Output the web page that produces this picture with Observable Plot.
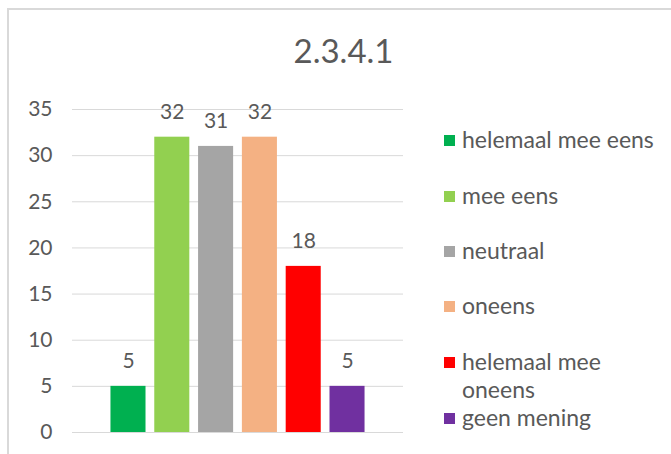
<!DOCTYPE html>
<html>
<head>
<meta charset="utf-8">
<script src="https://cdn.jsdelivr.net/npm/d3@7"></script>
<script src="https://cdn.jsdelivr.net/npm/@observablehq/plot@0.6"></script>
<style>
  html, body { margin: 0; padding: 0; background: #fff; overflow: hidden; }
  body { width: 671px; height: 454px; position: relative; font-family: Lato, "Open Sans", sans-serif; color: #595959; }
  #frame { position: absolute; left: 7px; top: 8px; width: 720px; height: 520px; border-left: 2px solid #d9d9d9; border-top: 2px solid #d9d9d9; box-sizing: border-box; }
  #title { position: absolute; left: 0; width: 687px; top: 30px; text-align: center; font-size: 33px; line-height: 40px; color: #595959; }
  #chart { position: absolute; left: 0; top: 0; }
  #legend { position: absolute; left: 444px; top: 0; }
  .item { position: absolute; left: 0; white-space: nowrap; font-size: 23px; line-height: 28px; color: #595959; }
  .sw { position: absolute; left: 0; width: 11px; height: 11px; }
  .lbl { position: absolute; left: 18px; }
</style>
</head>
<body>
<div id="frame"></div>
<div id="title">2.3.4.1</div>
<div id="chart"></div>
<div id="legend"></div>
<script>
const categories = ["helemaal mee eens", "mee eens", "neutraal", "oneens", "helemaal mee oneens", "geen mening"];
const values = [5, 32, 31, 32, 18, 5];
const colors = ["#00b050", "#92d050", "#a5a5a5", "#f4b183", "#ff0000", "#7030a0"];
const legendLines = [["helemaal mee eens"], ["mee eens"], ["neutraal"], ["oneens"], ["helemaal mee", "oneens"], ["geen mening"]];
const yTicks = [0, 5, 10, 15, 20, 25, 30, 35];

const data = categories.map((c, i) => ({category: c, value: values[i]}));

const chart = Plot.plot({
  width: 420,
  height: 454,
  marginLeft: 72,
  marginRight: 17,
  marginTop: 109,
  marginBottom: 22,
  style: {fontFamily: "Lato, 'Open Sans', sans-serif", fontSize: "21px", color: "#595959", background: "transparent", overflow: "visible"},
  x: {domain: categories, paddingInner: 0.2, paddingOuter: 0.878, round: false, axis: null},
  y: {domain: [0, 35], ticks: yTicks},
  color: {domain: categories, range: colors},
  marks: [
    Plot.gridY(yTicks, {stroke: "#d9d9d9", strokeOpacity: 1, strokeWidth: 1}),
    Plot.axisY(yTicks, {tickSize: 0, tickPadding: 20, fill: "#595959", fontSize: 21, label: null}),
    Plot.barY(data, {x: "category", y: "value", fill: "category"}),
    Plot.text(data, {x: "category", y: "value", text: d => String(d.value), dy: -25, fill: "#595959", fontSize: 21})
  ]
});
document.getElementById("chart").appendChild(chart);

const legend = document.getElementById("legend");
const baselines = [147, 203, 258, 313, 369, 425];
legendLines.forEach((lines, i) => {
  const item = document.createElement("div");
  item.className = "item";
  item.style.top = (baselines[i] - 22) + "px";
  const sw = document.createElement("div");
  sw.className = "sw";
  sw.style.background = colors[i];
  sw.style.top = "10px";
  item.appendChild(sw);
  const lbl = document.createElement("div");
  lbl.className = "lbl";
  lbl.innerHTML = lines.join("<br>");
  item.appendChild(lbl);
  legend.appendChild(item);
});
</script>
</body>
</html>
